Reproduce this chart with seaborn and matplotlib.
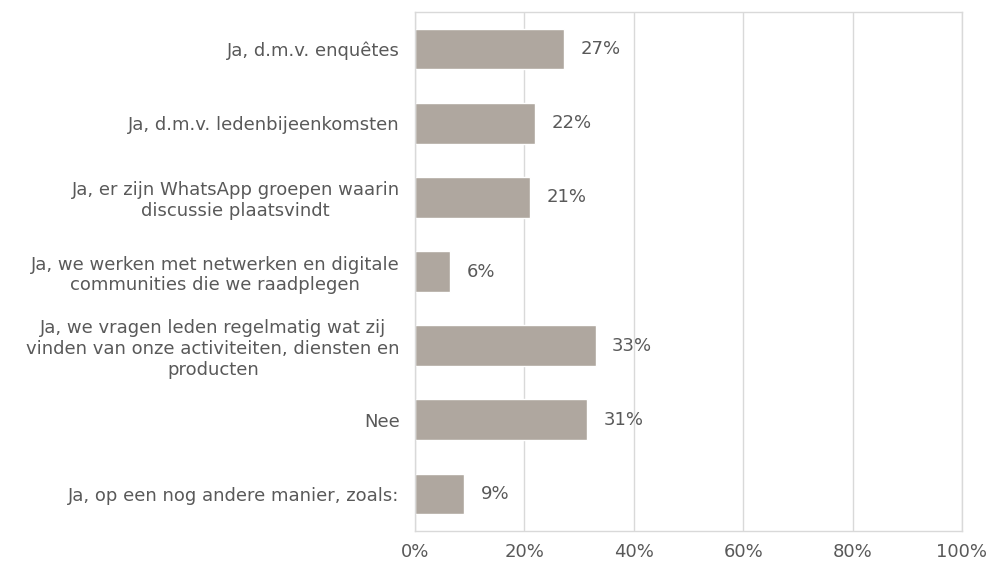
import matplotlib
matplotlib.use("Agg")
import matplotlib.pyplot as plt
import seaborn as sns
import pandas as pd

# answer categories (top to bottom) and shares
categories = [
    "Ja, d.m.v. enquêtes",
    "Ja, d.m.v. ledenbijeenkomsten",
    "Ja, er zijn WhatsApp groepen waarin\ndiscussie plaatsvindt",
    "Ja, we werken met netwerken en digitale\ncommunities die we raadplegen",
    "Ja, we vragen leden regelmatig wat zij\nvinden van onze activiteiten, diensten en\nproducten",
    "Nee",
    "Ja, op een nog andere manier, zoals:",
]
values = [0.273, 0.22, 0.211, 0.064, 0.33, 0.314, 0.09]
value_labels = ["27%", "22%", "21%", "6%", "33%", "31%", "9%"]
xticks = [0, 0.2, 0.4, 0.6, 0.8, 1.0]
xtick_labels = ["0%", "20%", "40%", "60%", "80%", "100%"]

df = pd.DataFrame({"cat": categories, "val": values})

sns.set_style("white")
plt.rcParams["font.family"] = ["DejaVu Sans"]
text_col = "#595959"
grid_col = "#d9d9d9"
fs = 13

fig = plt.figure(figsize=(9.94, 5.67), dpi=100)
ax = fig.add_axes([0.4175, 0.0635, 0.5503, 0.9153])

sns.barplot(data=df, x="val", y="cat", orient="h", color="#afa79f",
            saturation=1, width=0.55, ax=ax)

ax.set_xlim(0, 1)
ax.set_ylim(6.5, -0.5)
ax.set_xticks(xticks)
ax.set_xticklabels(xtick_labels)
ax.xaxis.grid(True, color=grid_col, linewidth=1)
ax.set_axisbelow(True)
ax.set_xlabel("")
ax.set_ylabel("")
for s in ax.spines.values():
    s.set_color(grid_col)
    s.set_linewidth(1)

ax.tick_params(axis="both", length=0, labelsize=fs, colors=text_col)
ax.tick_params(axis="x", pad=9)
ax.tick_params(axis="y", pad=11)
for lab in ax.get_yticklabels():
    lab.set_multialignment("center")
    lab.set_linespacing(1.2)

ax.bar_label(ax.containers[0], labels=value_labels, padding=12,
             fontsize=fs, color=text_col)

fig.savefig("out.png", dpi=100)
